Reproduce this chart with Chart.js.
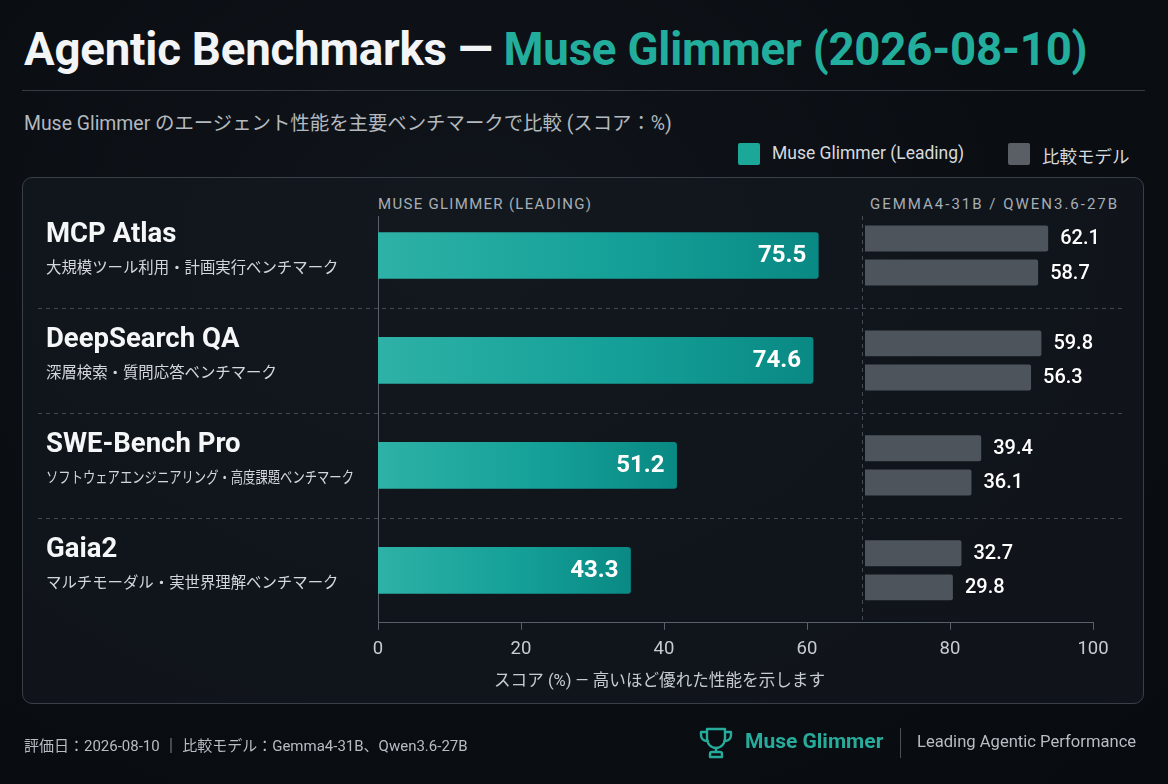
<!DOCTYPE html>
<html lang="ja">
<head>
<meta charset="utf-8">
<script src="https://cdn.jsdelivr.net/npm/chart.js@4.4.1/dist/chart.umd.min.js"></script>
<style>
  html, body { margin: 0; padding: 0; }
  body {
    width: 1168px; height: 784px; overflow: hidden; position: relative;
    background: radial-gradient(ellipse at 40% 30%, #10151b 0%, #0a0d12 60%, #080b0f 100%);
    font-family: Roboto, "Noto Sans CJK JP", "Noto Sans", sans-serif;
    color: #e8ebee;
  }
  .abs { position: absolute; white-space: nowrap; }
  #title { left: 24px; top: 23px; font-size: 45.6px; font-weight: 700; letter-spacing: -0.2px; color: #f2f4f6; }
  #title span { color: #22ad9c; }
  #rule { left: 22px; top: 90px; width: 1123px; height: 1px; background: #353b43; }
  #sub { left: 24px; top: 107px; font-size: 19.4px; color: #b3b9bf; }
  .sw { width: 22px; height: 22px; border-radius: 2px; }
  .lg { font-size: 17.5px; color: #d6dade; top: 143px; }
  #panel {
    left: 22px; top: 177px; width: 1120px; height: 525px; border: 1px solid #3a4048;
    border-radius: 10px; background: rgba(22, 28, 35, 0.55);
  }
  .hdr { top: 195px; font-size: 15px; color: #a7aeb5; }
  #xtitle { left: 494px; top: 667px; font-size: 16.6px; color: #c6cbd0; }
  #foot { left: 24px; top: 734px; font-size: 15px; color: #b7bdc3; }
  #brand { left: 745px; top: 729px; font-size: 21px; font-weight: 700; color: #27ab9b; }
  #vbar { left: 900px; top: 728px; width: 1px; height: 30px; background: #4a5058; }
  #tag { left: 917px; top: 732px; font-size: 16.6px; color: #b7bdc3; }
  #chartBox { position: absolute; left: 0; top: 0; width: 1168px; height: 784px; }
</style>
</head>
<body>
<div class="abs" id="title">Agentic Benchmarks — <span>Muse Glimmer (2026-08-10)</span></div>
<div class="abs" id="rule"></div>
<div class="abs" id="sub">Muse Glimmer のエージェント性能を主要ベンチマークで比較 (スコア：%)</div>

<div class="abs sw" style="left:738px;top:143px;background:#1ca898"></div>
<div class="abs lg" style="left:772px">Muse Glimmer (Leading)</div>
<div class="abs sw" style="left:1008px;top:143px;background:#5a5f66"></div>
<div class="abs lg" style="left:1042px">比較モデル</div>

<div class="abs" id="panel"></div>
<div class="abs hdr" style="left:378px;letter-spacing:1.3px">MUSE GLIMMER (LEADING)</div>
<div class="abs hdr" style="left:870px;letter-spacing:2px">GEMMA4-31B / QWEN3.6-27B</div>

<div id="chartBox"><canvas id="chartCanvas"></canvas></div>

<div class="abs" id="xtitle">スコア (%) — 高いほど優れた性能を示します</div>

<div class="abs" id="foot">評価日：2026-08-10 ｜ 比較モデル：Gemma4-31B、Qwen3.6-27B</div>
<svg class="abs" style="left:698px;top:727px" width="36" height="32" viewBox="0 0 36 32" fill="none" stroke="#27ab9b" stroke-width="2.4" stroke-linejoin="round" stroke-linecap="round">
  <path d="M9 2 H27 V11 C27 17 23 21 18 21 C13 21 9 17 9 11 Z"/>
  <path d="M9 5 H3 V8 C3 12 6 14 9.5 14"/>
  <path d="M27 5 H33 V8 C33 12 30 14 26.5 14"/>
  <path d="M18 21 V25"/>
  <path d="M12 30 H24 V27 C24 26 23 25 22 25 H14 C13 25 12 26 12 27 Z"/>
</svg>
<div class="abs" id="brand">Muse Glimmer</div>
<div class="abs" id="vbar"></div>
<div class="abs" id="tag">Leading Agentic Performance</div>

<script>
const benchmarks = ["MCP Atlas", "DeepSearch QA", "SWE-Bench Pro", "Gaia2"];
const descriptions = [
  "大規模ツール利用・計画実行ベンチマーク",
  "深層検索・質問応答ベンチマーク",
  "ソフトウェアエンジニアリング・高度課題ベンチマーク",
  "マルチモーダル・実世界理解ベンチマーク",
];
const museScores = [75.5, 74.6, 51.2, 43.3];
const gemmaScores = [62.1, 59.8, 39.4, 32.7];
const qwenScores = [58.7, 56.3, 36.1, 29.8];
const xTicks = [0, 20, 40, 60, 80, 100];

const gridColor = "#59606a";
const dashColor = "rgba(200, 206, 214, 0.28)";

function museFill(context) {
  const chart = context.chart;
  const xm = chart.scales.xm;
  if (!xm || context.type !== "data") return "#169b8f";
  const x0 = xm.getPixelForValue(0);
  const x1 = xm.getPixelForValue(context.raw);
  if (!isFinite(x0) || !isFinite(x1) || x1 <= x0) return "#169b8f";
  const g = chart.ctx.createLinearGradient(x0, 0, x1, 0);
  g.addColorStop(0, "#2eb1a6");
  g.addColorStop(0.55, "#14a098");
  g.addColorStop(1, "#0a8984");
  return g;
}

const panelDecor = {
  id: "panelDecor",
  beforeDatasetsDraw(chart) {
    const { ctx, chartArea } = chart;
    const y = chart.scales.y;
    const xc = chart.scales.xc;
    ctx.save();
    ctx.setLineDash([4, 4]);
    ctx.strokeStyle = dashColor;
    ctx.lineWidth = 1;
    for (let i = 0; i < benchmarks.length - 1; i++) {
      const yy = Math.round((y.getPixelForValue(i) + y.getPixelForValue(i + 1)) / 2) + 0.5;
      ctx.beginPath();
      ctx.moveTo(38, yy);
      ctx.lineTo(1125, yy);
      ctx.stroke();
    }
    const vx = Math.round(xc.getPixelForValue(0)) - 2.5;
    ctx.beginPath();
    ctx.moveTo(vx, 216);
    ctx.lineTo(vx, chartArea.bottom);
    ctx.stroke();
    ctx.setLineDash([]);
    ctx.strokeStyle = gridColor;
    ctx.beginPath();
    ctx.moveTo(chartArea.left + 0.5, 216);
    ctx.lineTo(chartArea.left + 0.5, chartArea.bottom);
    ctx.stroke();
    ctx.restore();
  },
  afterDatasetsDraw(chart) {
    const { ctx } = chart;
    const y = chart.scales.y;
    ctx.save();
    ctx.textBaseline = "middle";
    benchmarks.forEach((name, i) => {
      const cy = y.getPixelForValue(i);
      ctx.textAlign = "left";
      ctx.fillStyle = "#f4f6f8";
      ctx.font = "700 27.5px Roboto, 'Noto Sans CJK JP', sans-serif";
      ctx.fillText(name, 46, cy - 20);
      ctx.fillStyle = "#d3d7dc";
      ctx.font = "400 15.4px 'Noto Sans CJK JP', Roboto, sans-serif";
      ctx.fillText(descriptions[i], 46, cy + 12, 308);
    });
    const museMeta = chart.getDatasetMeta(0);
    ctx.font = "700 24px Roboto, sans-serif";
    ctx.fillStyle = "#ffffff";
    ctx.textAlign = "right";
    museMeta.data.forEach((bar, i) => {
      ctx.fillText(museScores[i].toFixed(1), bar.x - 12, bar.y + 1);
    });
    ctx.font = "500 20px Roboto, sans-serif";
    ctx.textAlign = "left";
    [[1, gemmaScores], [2, qwenScores]].forEach(([di, vals]) => {
      const meta = chart.getDatasetMeta(di);
      meta.data.forEach((bar, i) => {
        ctx.fillText(vals[i].toFixed(1), bar.x + 12, bar.y + 1);
      });
    });
    ctx.restore();
  },
};

const ctxChart = document.getElementById("chartCanvas").getContext("2d");
const chart = new Chart(ctxChart, {
  type: "bar",
  data: {
    labels: benchmarks,
    datasets: [
      {
        label: "Muse Glimmer (Leading)",
        data: museScores,
        xAxisID: "xm",
        grouped: false,
        barThickness: 46,
        backgroundColor: museFill,
        borderRadius: 3,
        borderSkipped: "start",
      },
      {
        label: "Gemma4-31B",
        data: gemmaScores,
        xAxisID: "xc",
        backgroundColor: "#4e545b",
        borderRadius: 2,
        borderSkipped: "start",
        categoryPercentage: 0.65,
        barPercentage: 0.76,
      },
      {
        label: "Qwen3.6-27B",
        data: qwenScores,
        xAxisID: "xc",
        backgroundColor: "#4e545b",
        borderRadius: 2,
        borderSkipped: "start",
        categoryPercentage: 0.65,
        barPercentage: 0.76,
      },
    ],
  },
  options: {
    indexAxis: "y",
    responsive: true,
    maintainAspectRatio: false,
    animation: false,
    layout: { padding: { left: 370, top: 203, right: 75, bottom: 116 } },
    plugins: { legend: { display: false }, tooltip: { enabled: false } },
    scales: {
      y: {
        type: "category",
        display: true,
        offset: true,
        grid: { display: false },
        border: { display: false },
        ticks: { display: false },
      },
      x: {
        type: "linear",
        min: 0,
        max: 100,
        afterBuildTicks(scale) {
          scale.ticks = xTicks.map((v) => ({ value: v }));
        },
        grid: { drawOnChartArea: false, drawTicks: true, tickLength: 7, color: gridColor },
        border: { display: true, color: gridColor },
        ticks: { color: "#c7ccd1", font: { size: 18.5, family: "Roboto" }, padding: 8 },
      },
      xm: { type: "linear", display: false, min: 0, max: 122.6 },
      xc: { type: "linear", display: false, min: -165.1, max: 77.3 },
    },
  },
  plugins: [panelDecor],
});
</script>
</body>
</html>
